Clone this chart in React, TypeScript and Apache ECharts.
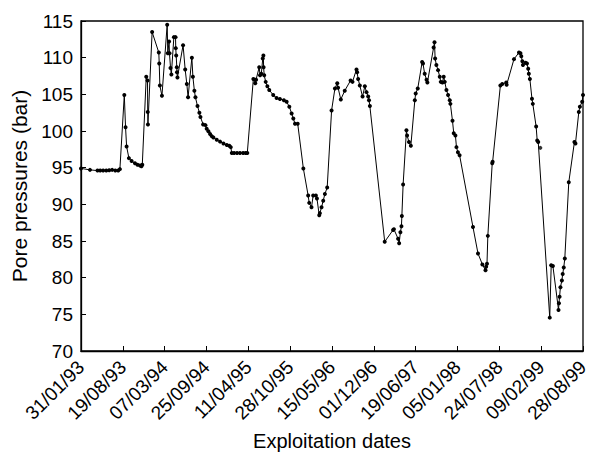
import React, { useEffect, useRef } from "react";
import * as echarts from "echarts";

// Days elapsed since 31/01/93
const dayOffsets = [
  0, 43, 79, 92, 106, 121, 135, 149, 164, 178, 186,
  207, 213, 218, 229, 242, 258, 270, 282, 289, 293,
  312, 318, 319, 320, 340, 372, 374, 377, 387, 412, 415, 421, 423, 428, 432,
  444, 452, 453, 455, 458, 459, 461, 488, 498, 506, 512, 530, 535, 542, 547,
  557, 566, 571, 584, 595, 601, 609, 617, 625, 633, 649, 665, 681, 697, 709, 716,
  721, 732, 746, 760, 775, 787, 795,
  824, 832, 833, 837, 852, 856, 862, 869, 872, 873, 876, 883, 891, 900, 919, 935,
  951, 970, 983, 996, 1007, 1015, 1023, 1036,
  1063, 1086, 1091, 1102, 1110, 1123, 1128, 1139, 1142, 1150, 1158, 1166, 1177,
  1198, 1214, 1225, 1229, 1242, 1261, 1289, 1298, 1317, 1320, 1325, 1333, 1346,
  1357, 1365, 1373, 1377, 1381,
  1452, 1492, 1496, 1516, 1521, 1527, 1532, 1534, 1540, 1556, 1559, 1568, 1577,
  1596, 1600, 1610, 1631, 1635, 1643, 1652, 1656, 1686, 1690, 1693, 1699, 1707,
  1715, 1720, 1728, 1734, 1739, 1747, 1755, 1763, 1766, 1776, 1782, 1790, 1795,
  1802, 1810,
  1874, 1898, 1919, 1934, 1937, 1941, 1945, 1966, 1968, 2005, 2014, 2033, 2035,
  2070, 2094, 2101, 2105, 2110, 2113, 2125, 2132, 2138, 2141, 2146, 2156, 2160,
  2176, 2181, 2186,
  2241, 2248, 2256, 2283, 2285, 2288, 2292, 2299, 2303, 2308, 2313, 2332, 2359,
  2364, 2380, 2385, 2396, 2400,
];

const pressures = [
  94.9, 94.7, 94.6, 94.6, 94.6, 94.6, 94.65, 94.7, 94.6, 94.6, 94.8,
  104.9, 100.5, 97.9, 96.3, 95.9, 95.6, 95.4, 95.3, 95.2, 95.4,
  107.4, 106.9, 102.6, 100.9, 113.5, 110.7, 109.2, 106.2, 104.8, 114.5, 110.6, 112.2, 110.6, 108.6, 107.7,
  112.8, 112.8, 111.3, 110.3, 108.7, 108.0, 107.3, 111.7, 108.4, 106.4, 104.6, 110.0, 107.4, 105.5, 104.6,
  103.4, 102.5, 101.9, 100.9, 100.8, 100.3, 99.96, 99.6, 99.3, 99.1, 98.8, 98.55, 98.3, 98.1, 98.0, 97.8,
  97.0, 97.0, 97.0, 97.0, 97.0, 97.0, 97.0,
  107.1, 107.0, 106.5, 107.0, 108.7, 107.6, 107.8, 109.9, 110.3, 108.7, 107.6, 106.7, 106.1, 105.6, 104.9, 104.5,
  104.35, 104.2, 104.0, 103.3, 102.4, 101.7, 101.0, 101.0,
  94.9, 91.2, 90.2, 89.6, 91.2, 91.2, 90.8, 88.5, 88.8, 89.6, 90.5, 91.4, 92.3,
  102.8, 105.8, 106.5, 105.9, 104.3, 105.5, 106.9, 106.7, 108.4, 108.0, 107.1, 106.2, 104.7,
  106.1, 105.3, 104.7, 104.2, 103.4,
  84.9, 86.5, 86.6, 85.3, 84.7, 86.2, 87.0, 88.4, 92.7, 100.1, 99.4, 98.5, 98.0,
  104.2, 105.1, 105.8, 109.4, 109.2, 107.8, 107.0, 106.6, 111.4, 112.1, 109.9, 109.0, 108.3,
  107.4, 106.7, 106.6, 107.4, 106.7, 105.6, 104.9, 104.2, 103.7, 101.4, 99.7, 99.4, 97.8,
  97.1, 96.7,
  86.9, 83.3, 81.8, 81.0, 81.5, 81.9, 85.7, 95.6, 95.8, 106.2, 106.4, 106.6, 106.3,
  109.8, 110.7, 110.6, 110.2, 109.5, 109.0, 109.3, 109.2, 108.5, 107.8, 107.1, 104.4, 103.7,
  100.6, 98.7, 98.5,
  74.55, 81.7, 81.6, 75.6, 76.5, 77.4, 78.7, 79.6, 80.5, 81.4, 82.6, 93.0, 98.5,
  98.3, 102.6, 103.3, 104.0, 104.9,
];

// An isolated reading that is not joined to the line
const isolatedDays = [2196];
const isolatedPressures = [97.7];

const xTickLabels = [
  "31/01/93", "19/08/93", "07/03/94", "25/09/94", "11/04/95", "28/10/95",
  "15/05/96", "01/12/96", "19/06/97", "05/01/98", "24/07/98", "09/02/99", "28/08/99",
];
const xTickStep = 200;

export default function App() {
  const ref = useRef<HTMLDivElement>(null);
  useEffect(() => {
    if (!ref.current) return;
    const chart = echarts.init(ref.current, undefined, { renderer: "svg" });
    const font = "'Liberation Sans', Arial, sans-serif";
    chart.setOption({
      animation: false,
      backgroundColor: "#fff",
      grid: {
        left: 81,
        right: 13,
        top: 21,
        bottom: 108,
        show: true,
        borderColor: "#000",
        borderWidth: 1.3,
        backgroundColor: "transparent",
      },
      xAxis: {
        type: "value",
        min: 0,
        max: xTickStep * (xTickLabels.length - 1),
        interval: xTickStep,
        name: "Exploitation dates",
        nameLocation: "middle",
        nameGap: 80,
        nameTextStyle: { fontFamily: font, fontSize: 20, color: "#000" },
        axisLine: { show: true, lineStyle: { color: "#000", width: 1.3 } },
        axisTick: { show: true, inside: true, length: 5, lineStyle: { color: "#000" } },
        splitLine: { show: false },
        axisLabel: {
          rotate: 45,
          fontFamily: font,
          fontSize: 19,
          color: "#000",
          margin: 13,
          formatter: (v: number) => xTickLabels[Math.round(v / xTickStep)] ?? "",
        },
      },
      yAxis: {
        type: "value",
        min: 70,
        max: 115,
        interval: 5,
        name: "Pore pressures (bar)",
        nameLocation: "middle",
        nameGap: 46,
        nameTextStyle: { fontFamily: font, fontSize: 21, color: "#000" },
        axisLine: { show: true, lineStyle: { color: "#000", width: 1.3 } },
        axisTick: { show: true, inside: true, length: 5, lineStyle: { color: "#000" } },
        splitLine: { show: false },
        axisLabel: { fontFamily: font, fontSize: 19, color: "#000", margin: 8 },
      },
      series: [
        {
          type: "line",
          data: dayOffsets.map((d, i) => [d, pressures[i]]),
          symbol: "circle",
          symbolSize: 4,
          showAllSymbol: true,
          lineStyle: { color: "#000", width: 1 },
          itemStyle: { color: "#000" },
        },
        {
          type: "scatter",
          data: isolatedDays.map((d, i) => [d, isolatedPressures[i]]),
          symbol: "circle",
          symbolSize: 4,
          itemStyle: { color: "#000" },
        },
      ],
    });
    return () => chart.dispose();
  }, []);
  return <div ref={ref} style={{ width: 596, height: 459, position: "absolute", left: 0, top: 0 }} />;
}
